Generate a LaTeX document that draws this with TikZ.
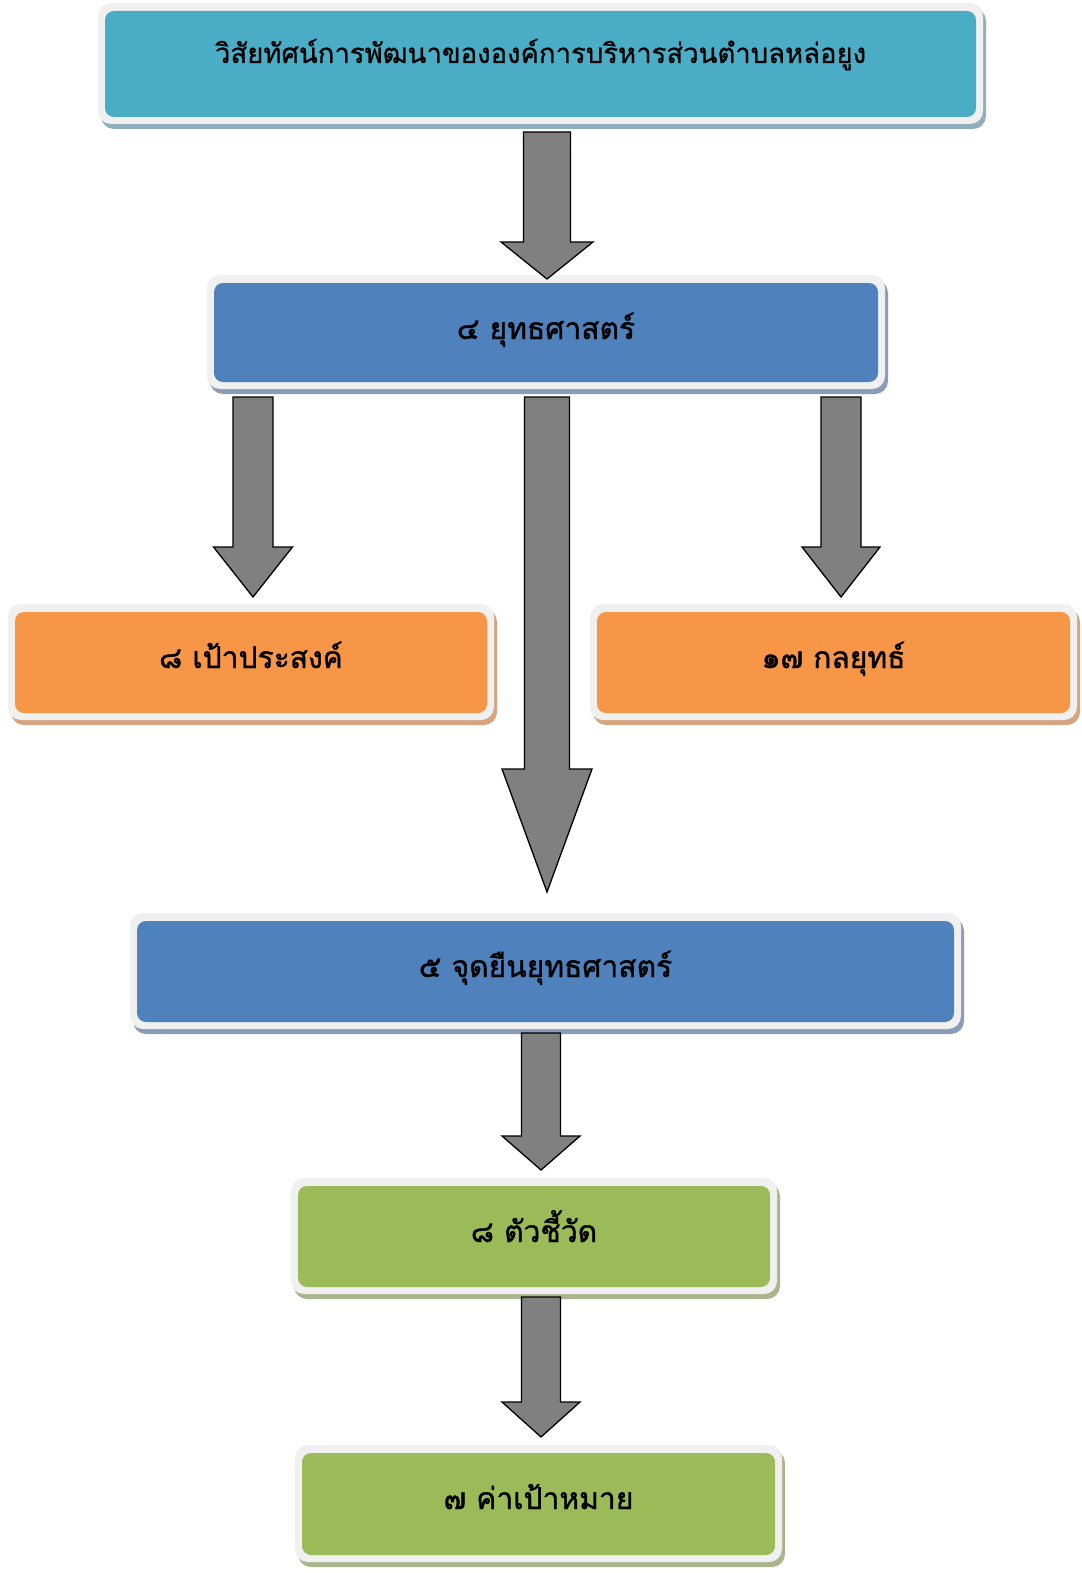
\documentclass[tikz,border=0pt]{standalone}
\usepackage{fontspec}
\newfontfamily\thaitop[Script=Thai,FakeBold=0.7]{Loma}
\newfontfamily\thaiboldish[Script=Thai,FakeBold=1.2]{Loma}
\usetikzlibrary{calc}
\definecolor{cteal}{HTML}{4BACC6}
\definecolor{cblue}{HTML}{4F81BD}
\definecolor{corange}{HTML}{F79646}
\definecolor{cgreen}{HTML}{9BBB59}
\definecolor{ctealshadow}{HTML}{8FB0BA}
\definecolor{cblueshadow}{HTML}{8B9CB8}
\definecolor{corangeshadow}{HTML}{D6A47E}
\definecolor{cgreenshadow}{HTML}{AAB58C}
\definecolor{framecol}{HTML}{F0F0F0}
\definecolor{arrowgray}{HTML}{808080}
\tikzset{
  arrowshape/.style={fill=arrowgray, draw=black, line width=1.3pt, line join=miter},
  innerbox/.style={inner sep=0pt, rounded corners=9pt, draw=none},
  boxlabel/.style={font=\thaiboldish\fontsize{30}{30}\selectfont, anchor=base, inner sep=0pt, text=black},
  toplabel/.style={font=\thaitop\fontsize{27.5}{27.5}\selectfont, anchor=base, inner sep=0pt, text=black, yshift=4pt},
}
% #1 name, #2 x1, #3 y1, #4 x2, #5 y2 (inner box), #6 colour, #7 text, #8 label style
\newcommand\tbox[8]{%
  \fill[#6shadow, rounded corners=13pt] ({#2-7+3},{#3-8+5}) rectangle ({#4+7+3},{#5+7+5});
  \fill[framecol, rounded corners=13pt] ({#2-7},{#3-8}) rectangle ({#4+7},{#5+7});
  \node[innerbox, fill=#6, minimum width={(#4-#2)*1pt}, minimum height={(#5-#3)*1pt}] (#1) at ({(#2+#4)/2},{(#3+#5)/2}) {};
  \node[#8] (#1t) at ({(#2+#4)/2},{#3+56}) {#7};
}
% #1 from, #2 to, #3 shaft width, #4 head width, #5 head length
\newcommand\blockarrow[5]{%
  \draw[arrowshape] let \p1=(#1), \p2=(#2) in
    (\x1-#3pt/2,\y1) -- (\x1+#3pt/2,\y1) -- (\x1+#3pt/2,\y2+#5pt) -- (\x1+#4pt/2,\y2+#5pt)
    -- (\x2,\y2) -- (\x1-#4pt/2,\y2+#5pt) -- (\x1-#3pt/2,\y2+#5pt) -- cycle;
}
\begin{document}
\begin{tikzpicture}[x=1pt,y=-1pt]
\useasboundingbox (0,0) rectangle (1081,1573);
\fill[white] (0,0) rectangle (1081,1573);

\tbox{vision}{105}{11}{976}{117}{cteal}{วิสัยทัศน์การพัฒนาขององค์การบริหารส่วนตำบลหล่อยูง}{toplabel}
\tbox{strat}{214}{283}{878}{382}{cblue}{๔ ยุทธศาสตร์}{boxlabel}
\tbox{goal}{15}{612}{487}{713}{corange}{๘ เป้าประสงค์}{boxlabel}
\tbox{tact}{597}{612}{1070}{713}{corange}{๑๗ กลยุทธ์}{boxlabel}
\tbox{pos}{137}{921}{954}{1022}{cblue}{๕ จุดยืนยุทธศาสตร์}{boxlabel}
\tbox{ind}{298}{1186}{770}{1287}{cgreen}{๘ ตัวชี้วัด}{boxlabel}
\tbox{target}{302}{1453}{775}{1555}{cgreen}{๗ ค่าเป้าหมาย}{boxlabel}

\coordinate (a1s) at (547,132);  \coordinate (a1e) at (547,279);
\coordinate (a2s) at (253,397);  \coordinate (a2e) at (253,597);
\coordinate (a3s) at (547,397);  \coordinate (a3e) at (547,892);
\coordinate (a4s) at (841,397);  \coordinate (a4e) at (841,597);
\coordinate (a5s) at (541,1033); \coordinate (a5e) at (541,1170);
\coordinate (a6s) at (541,1297); \coordinate (a6e) at (541,1437);

\blockarrow{a1s}{a1e}{47}{92}{37}
\blockarrow{a2s}{a2e}{40}{79}{50}
\blockarrow{a3s}{a3e}{45}{90}{123}
\blockarrow{a4s}{a4e}{40}{78}{50}
\blockarrow{a5s}{a5e}{39}{78}{34}
\blockarrow{a6s}{a6e}{39}{78}{35}
\end{tikzpicture}
\end{document}
